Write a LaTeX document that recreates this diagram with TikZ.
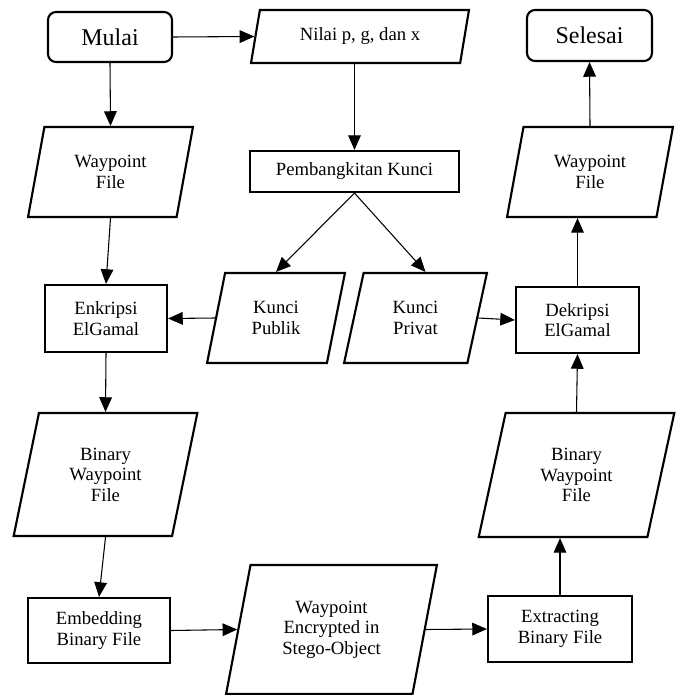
\documentclass[tikz,border=0pt]{standalone}
\usepackage{fontspec}
\setmainfont{Liberation Serif}
\usetikzlibrary{shapes.geometric,arrows.meta,calc}
\begin{document}
\begin{tikzpicture}[x=0.75pt,y=-0.75pt,
  sz/.style n args={2}{minimum width=#1*0.75pt, minimum height=#2*0.75pt},
  base/.style={draw, line width=1.6pt, align=center, inner sep=2pt,
    font=\fontsize{14}{15.4}\selectfont},
  proc/.style={base, rectangle},
  term/.style={base, rectangle, rounded corners=6pt, font=\fontsize{18}{20}\selectfont},
  io/.style={base, trapezium, trapezium left angle=76, trapezium right angle=104,
    trapezium stretches=true},
  arr/.style={line width=0.8pt, -{Triangle[length=11pt,width=9.5pt]}}
]
\useasboundingbox (0,0) rectangle (683,695);

\node[term, sz={124}{50}] (mulai) at (110,37) {Mulai};
\node[io, sz={218}{53}] (nilai) at (360,36.5) {Nilai p, g, dan x};
\node[term, sz={125}{51}] (selesai) at (589.5,35.5) {Selesai};

\node[io, sz={165}{90}] (wpL) at (110.5,172) {Waypoint\\File};
\node[proc, sz={209}{41}] (pemb) at (354.5,171.5) {Pembangkitan Kunci};
\node[io, sz={166}{90}] (wpR) at (590,172) {Waypoint\\File};

\node[proc, sz={122}{67}] (enk) at (106,318.5) {Enkripsi\\ElGamal};
\node[io, sz={138}{90}] (kpub) at (276,318) {Kunci\\Publik};
\node[io, sz={143}{90}] (kpriv) at (415.5,318) {Kunci\\Privat};
\node[proc, sz={123}{66}] (dek) at (577.5,320) {Dekripsi\\ElGamal};

\node[io, sz={185}{123}] (binL) at (105.5,474.5) {Binary\\Waypoint\\File};
\node[io, sz={197}{124}] (binR) at (576.5,475) {Binary\\Waypoint\\File};

\node[proc, sz={142}{65}] (emb) at (99,630.5) {Embedding\\Binary File};
\node[io, sz={211}{129}] (stego) at (331.5,629.5) {Waypoint\\Encrypted in\\Stego-Object};
\node[proc, sz={144}{66}] (ext) at (560,629) {Extracting\\Binary File};

\draw[arr] (mulai.east) -- (nilai.left side);
\draw[arr] (mulai.south) -- (wpL.north);
\draw[arr] (pemb.north |- nilai.south) -- (pemb.north);
\draw[arr] (pemb.south) -- (kpub.north);
\draw[arr] (pemb.south) -- (kpriv.top side);
\draw[arr] (wpL.south) -- (enk.north);
\draw[arr] (kpub.left side) -- (enk.east);
\draw[arr] (kpriv.right side) -- (dek.west);
\draw[arr] (enk.south) -- (binL.north);
\draw[arr] (binL.south) -- (emb.north);
\draw[arr] (emb.east) -- (stego.left side);
\draw[arr] (stego.right side) -- (ext.west);
\draw[arr] (ext.north) -- (ext.north |- binR.south);
\draw[arr] (binR.north) -- (dek.south);
\draw[arr] (dek.north) -- (dek.north |- wpR.south);
\draw[arr] (wpR.north) -- (selesai.south);
\end{tikzpicture}
\end{document}
